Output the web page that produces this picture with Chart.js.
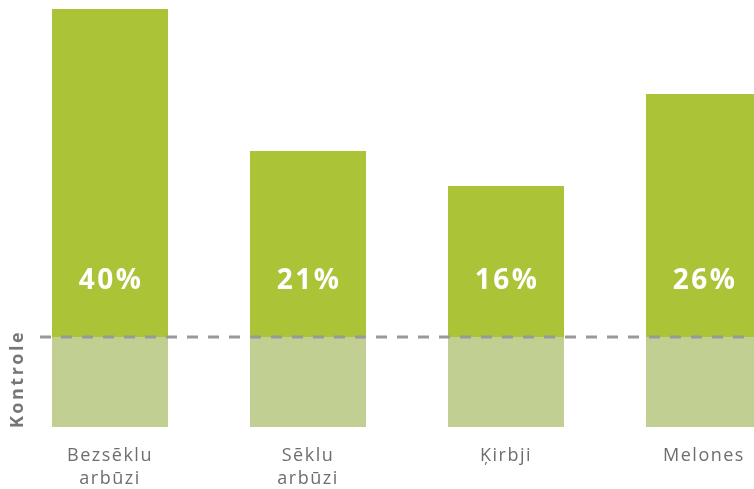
<!DOCTYPE html>
<html>
<head>
<meta charset="utf-8">
<script src="https://cdn.jsdelivr.net/npm/chart.js@4"></script>
<style>
  html, body { margin: 0; padding: 0; background: #fff; overflow: hidden; }
  #wrap { width: 803px; height: 508px; }
</style>
</head>
<body>
<div id="wrap"><canvas id="chart" width="803" height="508"></canvas></div>
<script>
// Categories (Latvian labels, two lines where needed)
const categories = [['Bezsēklu', 'arbūzi'], ['Sēklu', 'arbūzi'], 'Ķirbji', 'Melones'];
// Control level (same for every crop) and gain above control, in chart units
const controlValues = [90, 90, 90, 90];
const gainValues = [328, 186, 151, 243];
const gainLabels = ['40%', '21%', '16%', '26%'];
const controlLabel = 'Kontrole';

const colors = {
    gain: '#abc337',
    control: '#c1cf93',
    dash: '#999999',
    text: '#6d6e70',
    label: '#767676'
};

// Draws the dashed control line, the % labels and the rotated "Kontrole" caption
const overlayPlugin = {
    id: 'overlay',
    afterDatasetsDraw(chart) {
        const ctx = chart.ctx;
        const y = chart.scales.y;
        const lineY = y.getPixelForValue(controlValues[0]);
        const baseY = y.getPixelForValue(0);

        ctx.save();
        ctx.strokeStyle = colors.dash;
        ctx.lineWidth = 3;
        ctx.setLineDash([11, 10]);
        ctx.beginPath();
        ctx.moveTo(40, lineY);
        ctx.lineTo(chart.width, lineY);
        ctx.stroke();
        ctx.restore();

        const meta = chart.getDatasetMeta(1);
        ctx.save();
        ctx.fillStyle = '#ffffff';
        ctx.font = 'bold 28px "Open Sans", sans-serif';
        ctx.letterSpacing = '2.5px';
        ctx.textAlign = 'center';
        ctx.textBaseline = 'middle';
        meta.data.forEach((bar, i) => {
            ctx.fillText(gainLabels[i], bar.x + 1, lineY - 56);
        });
        ctx.restore();

        ctx.save();
        ctx.translate(18, (lineY + baseY) / 2 - 3);
        ctx.rotate(-Math.PI / 2);
        ctx.fillStyle = colors.label;
        ctx.font = 'bold 18px "Open Sans", sans-serif';
        ctx.letterSpacing = '2.5px';
        ctx.textAlign = 'center';
        ctx.textBaseline = 'middle';
        ctx.fillText(controlLabel, 0, 0);
        ctx.restore();
    }
};

// letter spacing for the category labels (measured and drawn with it)
const spacingPlugin = {
    id: 'spacing',
    beforeInit(chart) { chart.ctx.letterSpacing = '1.5px'; },
    beforeDraw(chart) { chart.ctx.letterSpacing = '1.5px'; }
};

new Chart(document.getElementById('chart'), {
    type: 'bar',
    data: {
        labels: categories,
        datasets: [
            {
                label: 'Kontrole',
                data: controlValues,
                backgroundColor: colors.control,
                borderWidth: 0,
                categoryPercentage: 1,
                barPercentage: 0.586
            },
            {
                label: 'Pieaugums',
                data: gainValues,
                backgroundColor: colors.gain,
                borderWidth: 0,
                categoryPercentage: 1,
                barPercentage: 0.586
            }
        ]
    },
    options: {
        responsive: false,
        animation: false,
        layout: { padding: { left: 11, right: 0, top: 0, bottom: 0 } },
        plugins: {
            legend: { display: false },
            tooltip: { enabled: false }
        },
        scales: {
            x: {
                stacked: true,
                grid: { display: false, drawTicks: false },
                border: { display: false },
                ticks: {
                    color: colors.text,
                    padding: 18,
                    maxRotation: 0,
                    autoSkip: false,
                    font: { family: '"Open Sans", sans-serif', size: 18, lineHeight: 1.25 }
                }
            },
            y: {
                stacked: true,
                display: false,
                min: 0,
                max: 427
            }
        }
    },
    plugins: [spacingPlugin, overlayPlugin]
});
</script>
</body>
</html>
